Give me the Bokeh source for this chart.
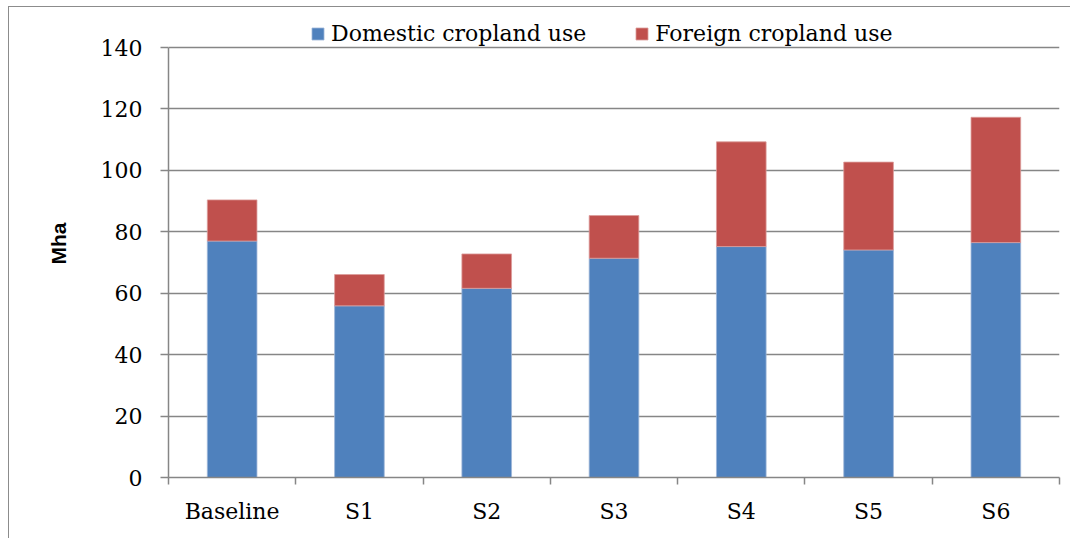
from bokeh.plotting import figure
from bokeh.models import (ColumnDataSource, Range1d, FixedTicker, Legend, LegendItem)
from bokeh.embed import file_html
from bokeh.resources import INLINE

categories = ["Baseline", "S1", "S2", "S3", "S4", "S5", "S6"]
domestic = [77.0, 55.9, 61.6, 71.4, 75.2, 74.1, 76.5]
foreign = [13.4, 10.2, 11.2, 13.9, 34.1, 28.6, 40.8]
series_names = ["Domestic cropland use", "Foreign cropland use"]
y_ticks = [0, 20, 40, 60, 80, 100, 120, 140]

xpos = [i + 0.5 for i in range(len(categories))]
total = [d + f for d, f in zip(domestic, foreign)]
src = ColumnDataSource(dict(x=xpos, dom=domestic, tot=total))

BLUE = "#4F81BD"
RED = "#C0504D"
GRID = "#868686"
SERIF = "DejaVu Serif"

# frame extended upward so the legend (inside the frame) sits above the 140 line
FRAME_TOP_PX, AXIS_TOP_PX, AXIS_BOTTOM_PX = 10, 48, 477
y_max = 140
y_end = y_max * (AXIS_BOTTOM_PX - FRAME_TOP_PX) / (AXIS_BOTTOM_PX - AXIS_TOP_PX)

p = figure(width=1062, height=532, output_backend="svg", toolbar_location=None,
           x_range=Range1d(0, len(categories)), y_range=Range1d(0, y_end),
           min_border_left=159, min_border_right=12, min_border_top=2, min_border_bottom=62)
p.outline_line_color = None
p.background_fill_color = "white"
p.border_fill_color = "white"
p.styles = {"border-left": "1.5px solid #8c8c8c", "border-top": "1.5px solid #8c8c8c",
            "box-sizing": "border-box", "margin-left": "8px", "margin-top": "6px"}

r1 = p.vbar(x="x", bottom=0, top="dom", width=0.39, source=src,
            fill_color=BLUE, line_color="#9db5d8", line_width=0.8)
r2 = p.vbar(x="x", bottom="dom", top="tot", width=0.39, source=src,
            fill_color=RED, line_color="#dc9c9a", line_width=0.8)

# x axis: labels at centres, tick marks at category boundaries
xt = FixedTicker(ticks=xpos, minor_ticks=list(range(len(categories) + 1)))
p.xaxis.ticker = xt
p.xaxis.major_label_overrides = {x: c for x, c in zip(xpos, categories)}
p.xaxis.major_tick_line_color = None
p.xaxis.minor_tick_line_color = GRID
p.xaxis.minor_tick_line_width = 1.5
p.xaxis.minor_tick_out = 7
p.xaxis.minor_tick_in = 0
p.xaxis.major_label_standoff = 14
p.xaxis.axis_line_color = GRID
p.xaxis.axis_line_width = 1.5
p.xaxis.major_label_text_font = SERIF
p.xaxis.major_label_text_font_size = "22px"
p.xaxis.major_label_text_color = "black"

p.yaxis.ticker = FixedTicker(ticks=y_ticks)
p.yaxis.bounds = (0, y_max)
p.yaxis.major_tick_line_color = GRID
p.yaxis.major_tick_line_width = 1.5
p.yaxis.major_tick_out = 8
p.yaxis.major_tick_in = 0
p.yaxis.minor_tick_line_color = None
p.yaxis.axis_line_color = GRID
p.yaxis.axis_line_width = 1.5
p.yaxis.major_label_text_font = SERIF
p.yaxis.major_label_text_font_size = "22px"
p.yaxis.major_label_text_color = "black"
p.yaxis.major_label_standoff = 18
p.yaxis.axis_label = "Mha"
p.yaxis.axis_label_text_font = "Liberation Sans"
p.yaxis.axis_label_text_font_style = "bold"
p.yaxis.axis_label_text_font_size = "21px"
p.yaxis.axis_label_text_color = "black"
p.yaxis.axis_label_standoff = 28

p.xgrid.grid_line_color = None
p.ygrid.grid_line_color = GRID
p.ygrid.grid_line_width = 1.5
p.ygrid.ticker = FixedTicker(ticks=y_ticks)

legend = Legend(items=[LegendItem(label=series_names[0], renderers=[r1]),
                       LegendItem(label=series_names[1], renderers=[r2])],
                orientation="horizontal", location=(142, 431),
                label_text_font=SERIF, label_text_font_size="22px",
                label_text_color="black", label_height=24,
                glyph_width=15, glyph_height=15, label_standoff=6, spacing=48,
                padding=0, margin=0, border_line_color=None,
                background_fill_alpha=0)
p.add_layout(legend, "center")

open("out.html", "w").write(file_html(p, INLINE))
